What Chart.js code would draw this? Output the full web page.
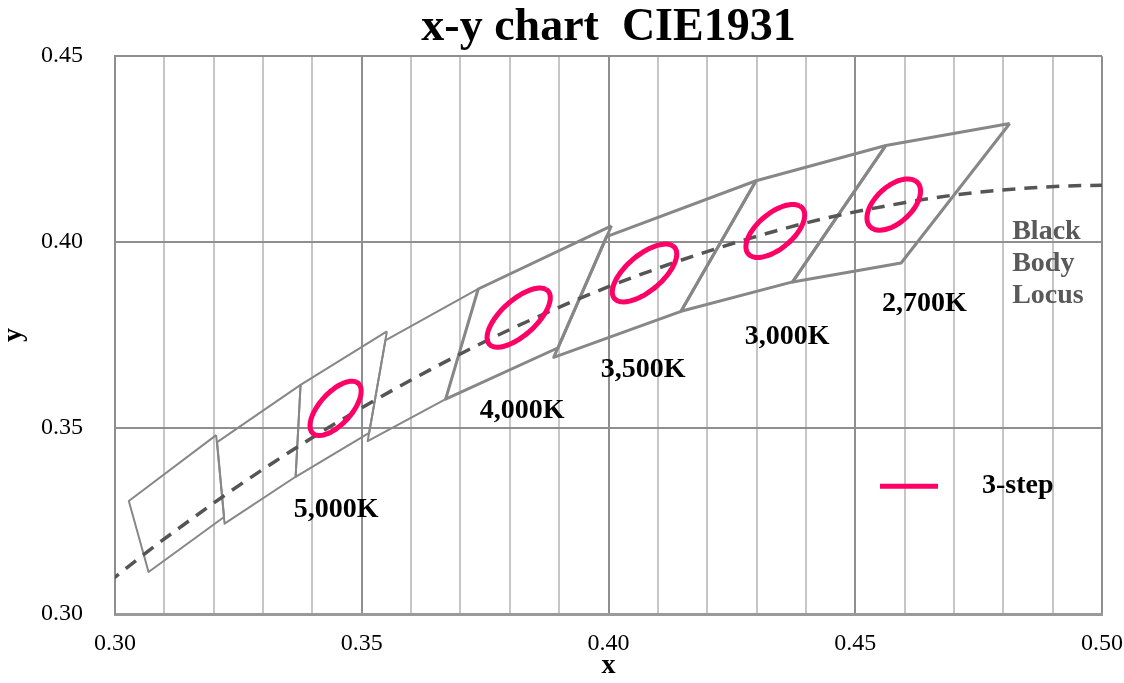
<!DOCTYPE html>
<html>
<head>
<meta charset="utf-8">
<title>x-y chart CIE1931</title>
<script src="https://cdn.jsdelivr.net/npm/chart.js@4.4.1/dist/chart.umd.min.js"></script>
<style>
  html, body { margin: 0; padding: 0; background: #fff; }
  canvas { display: block; }
</style>
</head>
<body>
<canvas id="cie" width="1124" height="683"></canvas>
<script>
/* ==================
    DATOS
================== */

// ANSI quadrangles, corners: top-right, top-left, bottom-left, bottom-right
const quadCct = ['6500K', '5700K', '5000K', '4500K', '4000K', '3500K', '3000K', '2700K'];
const quadX = [
    [0.3205, 0.3028, 0.3068, 0.3221],
    [0.3376, 0.3207, 0.3222, 0.3366],
    [0.3551, 0.3376, 0.3366, 0.3515],
    [0.3736, 0.3548, 0.3512, 0.3670],
    [0.4006, 0.3736, 0.3670, 0.3898],
    [0.4299, 0.3996, 0.3889, 0.4147],
    [0.4562, 0.4299, 0.4147, 0.4373],
    [0.4813, 0.4562, 0.4373, 0.4593]
];
const quadY = [
    [0.3481, 0.3304, 0.3113, 0.3261],
    [0.3616, 0.3462, 0.3243, 0.3369],
    [0.3760, 0.3616, 0.3369, 0.3487],
    [0.3874, 0.3736, 0.3465, 0.3578],
    [0.4044, 0.3874, 0.3578, 0.3716],
    [0.4165, 0.4015, 0.3690, 0.3814],
    [0.4260, 0.4165, 0.3814, 0.3893],
    [0.4319, 0.4260, 0.3893, 0.3944]
];

// black body (planckian) locus
const bblX = [0.2952, 0.3064, 0.3135, 0.3221, 0.3325, 0.3451, 0.3608, 0.3805, 0.4053, 0.4369, 0.4599, 0.4770, 0.5018, 0.5267];
const bblY = [0.3048, 0.3166, 0.3236, 0.3318, 0.3411, 0.3516, 0.3635, 0.3768, 0.3907, 0.4041, 0.4106, 0.4137, 0.4153, 0.4133];

// 1-step MacAdam ellipses (center, semi axes, angle in degrees)
const ellCct = ['5000K', '4000K', '3500K', '3000K', '2700K'];
const ellX = [0.3447, 0.3818, 0.4073, 0.4338, 0.4578];
const ellY = [0.3553, 0.3797, 0.3917, 0.4030, 0.4101];
const ellA = [0.00274, 0.00313, 0.00309, 0.00278, 0.00258];
const ellB = [0.00118, 0.00134, 0.00138, 0.00136, 0.00137];
const ellTheta = [59.37, 54.00, 52.53, 53.43, 57.28];
const ellSteps = 3;

// axis ticks
const xTickLabels = ['0.30', '0.35', '0.40', '0.45', '0.50'];
const yTickLabels = ['0.30', '0.35', '0.40', '0.45'];

// text on the chart
const cctLabels = ['5,000K', '4,000K', '3,500K', '3,000K', '2,700K'];
const bblLabel = ['Black', 'Body', 'Locus'];
const legendLabel = '3-step';

/* ==================
    GRAFICA
================== */

const serif = "'Liberation Serif', 'Times New Roman', serif";
const pink = '#ff0066';

function quadPoints(i) {
    const pts = quadX[i].map((x, k) => ({ x: x, y: quadY[i][k] }));
    pts.push(pts[0]);
    return pts;
}

function ellipsePoints(i) {
    const pts = [];
    const t = ellTheta[i] * Math.PI / 180;
    const a = ellA[i] * ellSteps, b = ellB[i] * ellSteps;
    for (let k = 0; k <= 90; k++) {
        const p = k / 90 * 2 * Math.PI;
        pts.push({
            x: ellX[i] + a * Math.cos(p) * Math.cos(t) - b * Math.sin(p) * Math.sin(t),
            y: ellY[i] + a * Math.cos(p) * Math.sin(t) + b * Math.sin(p) * Math.cos(t)
        });
    }
    return pts;
}

const datasets = [];

quadCct.forEach((cct, i) => {
    datasets.push({
        label: cct,
        data: quadPoints(i),
        showLine: true,
        borderColor: '#878787',
        borderWidth: i < 4 ? 2 : 3,
        borderJoinStyle: 'round',
        pointRadius: 0,
        tension: 0,
        order: 3
    });
});

datasets.push({
    label: 'Black Body Locus',
    data: bblX.map((x, k) => ({ x: x, y: bblY[k] })),
    showLine: true,
    borderColor: '#555555',
    borderWidth: 3.5,
    borderDash: [13, 9],
    pointRadius: 0,
    cubicInterpolationMode: 'monotone',
    order: 2
});

ellCct.forEach((cct, i) => {
    datasets.push({
        label: cct + ' 3-step',
        data: ellipsePoints(i),
        showLine: true,
        borderColor: pink,
        borderWidth: 5,
        borderJoinStyle: 'round',
        pointRadius: 0,
        tension: 0.2,
        order: 1
    });
});

// textos sobre la grafica (etiquetas CCT, locus, leyenda)
const textos = {
    id: 'textos',
    afterDatasetsDraw(chart) {
        const { ctx, chartArea: ca, scales: { x, y } } = chart;
        const pos = [[0.3448, 0.3280], [0.3825, 0.3546], [0.4070, 0.3656], [0.4362, 0.3745], [0.4640, 0.3833]];
        ctx.save();
        ctx.font = 'bold 28px ' + serif;
        ctx.fillStyle = '#000';
        ctx.textAlign = 'center';
        ctx.textBaseline = 'middle';
        cctLabels.forEach((t, i) => {
            ctx.fillText(t, x.getPixelForValue(pos[i][0]), y.getPixelForValue(pos[i][1]));
        });

        ctx.fillStyle = '#595959';
        ctx.textAlign = 'left';
        ctx.textBaseline = 'alphabetic';
        const bx = x.getPixelForValue(0.4818);
        const by = y.getPixelForValue(0.4008);
        bblLabel.forEach((t, i) => ctx.fillText(t, bx, by + i * 32));

        // leyenda
        const ly = ca.top + 430;
        ctx.strokeStyle = pink;
        ctx.lineWidth = 5;
        ctx.beginPath();
        ctx.moveTo(ca.right - 222, ly);
        ctx.lineTo(ca.right - 164, ly);
        ctx.stroke();
        ctx.fillStyle = '#000';
        ctx.textBaseline = 'middle';
        ctx.fillText(legendLabel, ca.right - 120, ly);
        ctx.restore();
    }
};

new Chart(document.getElementById('cie'), {
    type: 'scatter',
    data: { datasets: datasets },
    options: {
        responsive: false,
        animation: false,
        devicePixelRatio: 1,
        layout: { padding: { top: 0, right: 22, bottom: 0, left: 0 } },
        plugins: {
            legend: { display: false },
            tooltip: { enabled: false },
            title: {
                display: true,
                text: 'x-y chart  CIE1931',
                color: '#000',
                fullSize: false,
                font: { family: serif, size: 46, weight: 'bold', lineHeight: 1.2 },
                padding: { top: 1, bottom: 0 }
            }
        },
        scales: {
            x: {
                type: 'linear',
                min: 0.30,
                max: 0.50,
                afterFit(s) { s.height = 69; s.paddingLeft = 0; s.paddingRight = 0; },
                ticks: {
                    stepSize: 0.01,
                    autoSkip: false,
                    maxRotation: 0,
                    padding: 15,
                    color: '#000',
                    font: { family: serif, size: 24 },
                    callback: (v) => {
                        const n = Math.round(v * 100);
                        return n % 5 === 0 ? xTickLabels[(n - 30) / 5] : '';
                    }
                },
                grid: {
                    drawTicks: false,
                    lineWidth: 2,
                    color: (c) => {
                        const n = Math.round(c.tick.value * 100);
                        return n % 5 === 0 ? '#8f8f8f' : '#c6c6c6';
                    }
                },
                border: { color: '#9a9a9a', width: 3 },
                title: {
                    display: true,
                    text: 'x',
                    color: '#000',
                    font: { family: serif, size: 28, weight: 'bold' },
                    padding: { top: 0, bottom: 0 }
                }
            },
            y: {
                type: 'linear',
                min: 0.30,
                max: 0.45,
                afterFit(s) { s.width = 115; s.paddingTop = 0; s.paddingBottom = 0; },
                ticks: {
                    stepSize: 0.05,
                    padding: 32,
                    color: '#000',
                    font: { family: serif, size: 24 },
                    callback: (v) => yTickLabels[Math.round((v - 0.30) / 0.05)]
                },
                grid: { drawTicks: false, lineWidth: 2, color: '#8f8f8f' },
                border: { color: '#8f8f8f', width: 2 },
                title: {
                    display: true,
                    text: 'y',
                    color: '#000',
                    font: { family: serif, size: 28, weight: 'bold' },
                    padding: { top: -3, bottom: 0 }
                }
            }
        }
    },
    plugins: [textos]
});
</script>
</body>
</html>
